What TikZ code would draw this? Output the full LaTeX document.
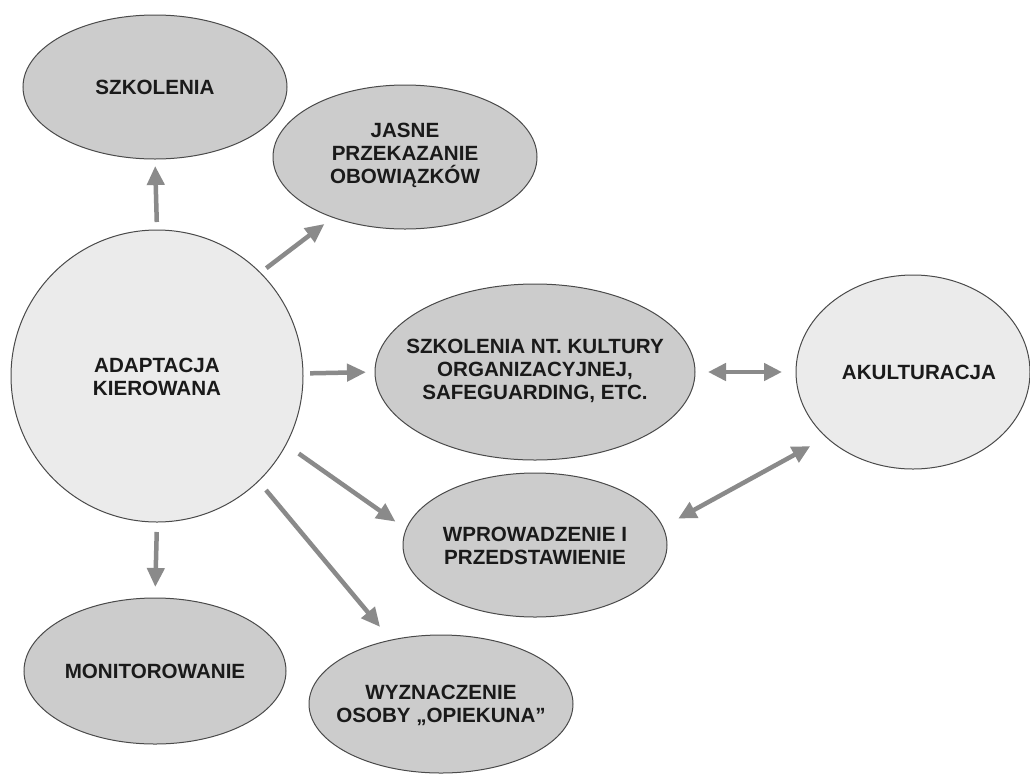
\documentclass[tikz,border=0pt]{standalone}
\usepackage{fontspec}
\setmainfont{Liberation Sans}
\usetikzlibrary{shapes.geometric,arrows.meta}
\definecolor{dk}{HTML}{CCCCCC}
\definecolor{lt}{HTML}{EBEBEB}
\definecolor{bd}{HTML}{4A4A4A}
\definecolor{ar}{HTML}{8A8A8A}
\definecolor{tx}{HTML}{1A1A1A}
\begin{document}
\begin{tikzpicture}[x=1pt,y=-1pt,
  bub/.style={ellipse,draw=bd,line width=1pt,fill=dk,inner sep=0pt,outer sep=0pt},
  lbub/.style={bub,fill=lt},
  lbl/.style={text=tx,font=\bfseries\fontsize{20.6}{23}\selectfont,align=center,inner sep=0pt},
  arr/.style={draw=ar,line width=4.5pt,-{Triangle[length=19pt,width=17pt]}},
  darr/.style={draw=ar,line width=4.5pt,{Triangle[length=18pt,width=17pt]}-{Triangle[length=18pt,width=17pt]}}]
\useasboundingbox[fill=white] (0,0) rectangle (1030,774);

% bubbles
\node[bub,minimum width=264pt,minimum height=144pt] (sz) at (155,87) {};
\node[bub,minimum width=264pt,minimum height=144pt] (jas) at (405,157) {};
\node[lbub,minimum width=292pt,minimum height=292pt] (ad) at (157,376) {};
\node[bub,minimum width=320pt,minimum height=176pt] (nt) at (535,372) {};
\node[lbub,minimum width=234pt,minimum height=194pt] (ak) at (913,372) {};
\node[bub,minimum width=264pt,minimum height=144pt] (wp) at (535,545) {};
\node[bub,minimum width=262pt,minimum height=146pt] (mo) at (155,671) {};
\node[bub,minimum width=264pt,minimum height=138pt] (wy) at (441,704) {};

% labels
\node[lbl] (szt) at (155,87) {SZKOLENIA};
\node[lbl] (jast) at (405,155) {JASNE\\PRZEKAZANIE\\OBOWIĄZKÓW};
\node[lbl] (adt) at (157,376.5) {ADAPTACJA\\KIEROWANA};
\node[lbl] (ntt) at (535,371) {SZKOLENIA NT. KULTURY\\ORGANIZACYJNEJ,\\SAFEGUARDING, ETC.};
\node[lbl] (akt) at (919,372) {AKULTURACJA};
\node[lbl] (wpt) at (535,546) {WPROWADZENIE I\\PRZEDSTAWIENIE};
\node[lbl] (mot) at (155,671) {MONITOROWANIE};
\node[lbl] (wyt) at (441,705.5) {WYZNACZENIE\\OSOBY „OPIEKUNA”};

% connectors
\draw[arr,shorten <=8pt,shorten >=7pt] (ad.90.8) -- (sz.south);
\draw[arr,shorten <=7.6pt,shorten >=10.9pt] (ad.45.7) -- (jas.220.4);
\draw[arr,shorten <=7.1pt,shorten >=9pt] (ad.1.57) -- (nt.west);
\draw[darr,shorten <=13pt,shorten >=14pt] (nt.east) -- (ak.west);
\draw[darr,shorten <=17.6pt,shorten >=18.5pt] (wp.8.3) -- (ak.217.7);
\draw[arr,shorten <=15.7pt,shorten >=13.1pt] (ad.-28.6) -- (wp.173.6);
\draw[arr,shorten <=11.8pt,shorten >=17.2pt] (ad.-46.6) -- (wy.128);
\draw[arr,shorten <=10pt,shorten >=11pt] (ad.-90.8) -- (mo.north);
\end{tikzpicture}
\end{document}
